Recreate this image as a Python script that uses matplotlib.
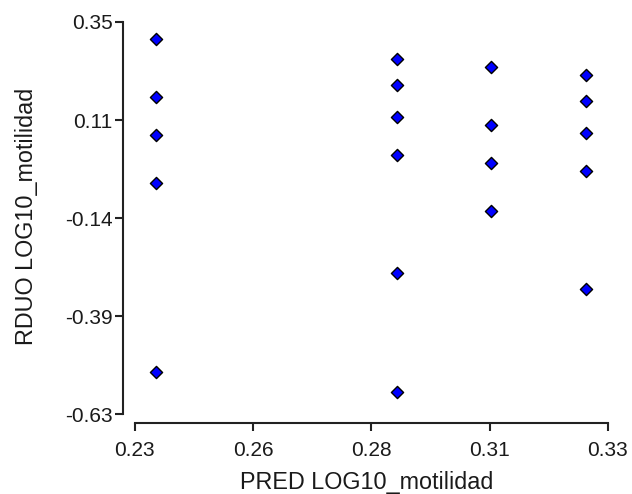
import matplotlib
matplotlib.use("Agg")
import matplotlib.pyplot as plt

plt.rcParams['font.family'] = ['Liberation Sans', 'DejaVu Sans']

# Data
pred = [0.2345, 0.2345, 0.2345, 0.2345, 0.2345,
        0.2855, 0.2855, 0.2855, 0.2855, 0.2855, 0.2855,
        0.3054, 0.3054, 0.3054, 0.3054,
        0.3253, 0.3253, 0.3253, 0.3253, 0.3253]
rduo = [0.307, 0.162, 0.068, -0.052, -0.524,
        0.258, 0.193, 0.113, 0.018, -0.278, -0.574,
        0.238, 0.093, -0.002, -0.122,
        0.218, 0.153, 0.073, -0.022, -0.318]

xticks = [0.23, 0.255, 0.28, 0.305, 0.33]
xticklabels = ['0.23', '0.26', '0.28', '0.31', '0.33']
yticks = [0.35, 0.105, -0.14, -0.385, -0.63]
yticklabels = ['0.35', '0.11', '-0.14', '-0.39', '-0.63']

W, H = 632, 494
fig = plt.figure(figsize=(W / 100, H / 100), dpi=100)
L, R, T, B = 123, 613, 17, 423
ax = fig.add_axes([L / W, 1 - B / H, (R - L) / W, (B - T) / H])

ax.scatter(pred, rduo, marker='D', s=6.2 ** 2, facecolor='#0000ff',
           edgecolor='black', linewidths=1.0, zorder=3)

ax.set_xlim(0.2275, 0.3311)
ax.set_ylim(-0.6525, 0.3625)

ax.set_xticks(xticks)
ax.set_xticklabels(xticklabels)
ax.set_yticks(yticks)
ax.set_yticklabels(yticklabels)

for s in ['top', 'right']:
    ax.spines[s].set_visible(False)
ax.spines['left'].set_bounds(yticks[-1], yticks[0])
ax.spines['bottom'].set_bounds(xticks[0], xticks[-1])
for s in ['left', 'bottom']:
    ax.spines[s].set_linewidth(1.5)
    ax.spines[s].set_color('#222222')

ax.tick_params(axis='both', direction='out', length=5.8, width=1.5,
               color='#222222', labelsize=15, labelcolor='#1a1a1a')
ax.tick_params(axis='x', pad=7.5)
ax.tick_params(axis='y', pad=1.5)

ax.set_xlabel('PRED LOG10_motilidad', fontsize=16.8, color='#1a1a1a')
ax.set_ylabel('RDUO LOG10_motilidad', fontsize=16.8, color='#1a1a1a')
ax.xaxis.set_label_coords(367 / W, 1 - 471 / H, transform=fig.transFigure)
ax.yaxis.set_label_coords(38 / W, 1 - 216 / H, transform=fig.transFigure)

fig.savefig('out.png', dpi=100)
